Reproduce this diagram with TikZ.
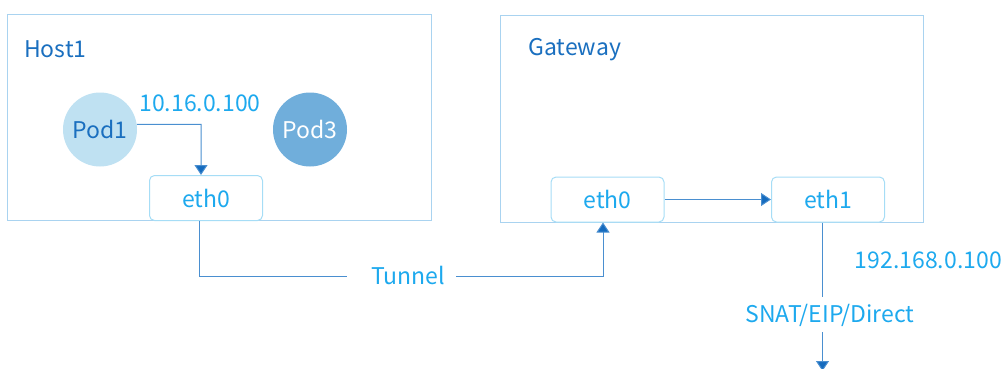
\documentclass[tikz,border=0pt]{standalone}
\usepackage{fontspec}
\setmainfont{Noto Sans CJK SC}
\usetikzlibrary{arrows.meta,calc}
\definecolor{boxline}{HTML}{A9D3F0}
\definecolor{ifline}{HTML}{A6DDF6}
\definecolor{cyantext}{HTML}{1DA9EE}
\definecolor{darktext}{HTML}{1A6FBF}
\definecolor{wire}{HTML}{4A8FD0}
\definecolor{tip}{HTML}{156BBE}
\definecolor{podlight}{HTML}{BFE1F2}
\definecolor{poddark}{HTML}{70AEDB}
\tikzset{
  every node/.style={font=\fontsize{23}{26}\selectfont},
  hostbox/.style={draw=boxline, line width=1pt},
  iface/.style={draw=ifline, line width=1pt, rounded corners=5pt, fill=white,
    text=cyantext, minimum width=113pt, minimum height=45pt, inner sep=0pt},
  podnode/.style={circle, minimum size=74pt, inner sep=0pt},
  wirestyle/.style={draw=wire, line width=1pt},
  arrowed/.style={wirestyle, -{Triangle[width=13pt,length=10pt,fill=tip]}},
  lbl/.style={text=cyantext, inner sep=0pt},
  title/.style={text=darktext, inner sep=0pt, anchor=west}
}
\begin{document}
\begin{tikzpicture}[x=1pt,y=-1pt]
\useasboundingbox (0,0) rectangle (1004,368);

% machines
\draw[hostbox] (7,14) rectangle (431,220.5);
\draw[hostbox] (500,15.5) rectangle (923,222);
\node[title] (hostname) at (24,49) {Host1};
\node[title] (gwname) at (528,50) {Gateway};

% pods
\node[podnode, fill=podlight, text=darktext] (pod1) at (100,129.5) {Pod1};
\node[podnode, fill=poddark, text=white] (pod3) at (310,129.5) {Pod3};
\node[lbl] (podip) at (200,103) {10.16.0.100};

% interfaces
\node[iface] (hosteth) at (206,198) {eth0};
\node[iface] (gweth0) at (607.5,199.5) {eth0};
\node[iface] (gweth1) at (828,199.5) {eth1};

% labels on the links
\node[lbl, fill=white, inner xsep=0pt] (tunnel) at (408,275) {Tunnel};
\node[lbl, anchor=east] (extip) at (1002,260) {192.168.0.100};
\node[lbl] (snat) at (830,315) {SNAT/EIP/Direct};

% link anchors
\coordinate (podturn) at (201,124.3);
\coordinate (tunneldown) at (199.5,276);
\coordinate (tunnelleft) at (347,276);
\coordinate (tunnelright) at (456,276);
\coordinate (tunnelup) at (603,276);
\coordinate (out) at (822.5,371);
\coordinate (snattop) at (822.5,297);
\coordinate (snatbot) at (822.5,332);

% links
\draw[arrowed] (pod1.8) -- (podturn) -- (podturn |- hosteth.north);
\draw[wirestyle] (hosteth.south -| tunneldown) -- (tunneldown) -- (tunnelleft);
\draw[arrowed] (tunnelright) -- (tunnelup) -- (tunnelup |- gweth0.south);
\draw[arrowed] (gweth0.east) -- (gweth1.west);
\draw[wirestyle] (gweth1.south -| snattop) -- (snattop);
\draw[arrowed] (snatbot) -- (out);
\end{tikzpicture}
\end{document}
